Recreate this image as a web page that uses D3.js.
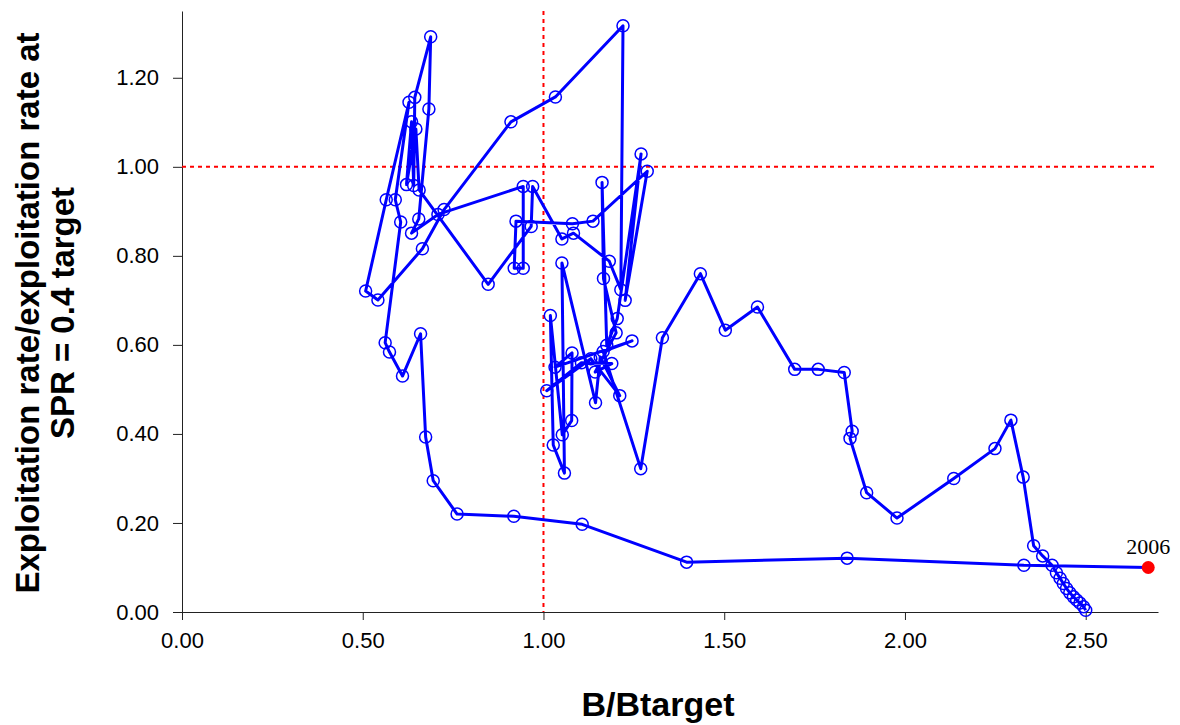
<!DOCTYPE html>
<html>
<head>
<meta charset="utf-8">
<script src="https://cdn.jsdelivr.net/npm/d3@7"></script>
<style>
  html, body { margin: 0; padding: 0; background: #fff; }
  svg { display: block; }
</style>
</head>
<body>
<svg id="chart" width="1180" height="725"></svg>
<script>
// ---- Data ----
const bRatio = [
  2.500, 2.494, 2.484, 2.475, 2.466, 2.456, 2.447, 2.438, 2.429, 2.419, 2.407, 2.381, 2.356,
  2.327, 2.293, 2.249, 2.135, 1.978, 1.894, 1.848, 1.854, 1.832, 1.760, 1.695, 1.592, 1.503, 1.434, 1.329, 1.269,
  1.165, 1.245, 1.032, 1.079, 1.078, 1.052, 1.019, 1.027, 1.058, 1.051, 1.144, 1.157, 1.211, 1.131, 1.009, 1.105,
  1.189, 1.143, 1.201, 1.166, 1.162, 1.175, 1.204, 1.270, 1.226, 1.287, 1.137, 1.080, 0.924, 0.919, 0.944, 0.944,
  0.708, 0.635, 0.655, 0.683, 0.688, 0.644, 0.641, 0.635, 0.621, 0.647, 0.656, 0.847, 0.966, 0.970, 1.051, 1.083,
  1.182, 1.214, 1.220, 1.033, 0.910, 0.725, 0.665, 0.542, 0.508, 0.565, 0.628, 0.590, 0.605,
  0.562, 0.574, 0.610, 0.660, 0.674, 0.695, 0.761, 0.918, 1.107, 1.396, 1.840, 2.329, 2.673
];
const fRatio = [
  0.004, 0.012, 0.020, 0.027, 0.034, 0.043, 0.053, 0.064, 0.076, 0.088, 0.105, 0.126, 0.149,
  0.303, 0.431, 0.367, 0.300, 0.211, 0.268, 0.390, 0.406, 0.538, 0.545, 0.545, 0.685, 0.633, 0.760, 0.616, 0.322,
  0.585, 0.609, 0.550, 0.582, 0.430, 0.398, 0.666, 0.375, 0.312, 0.784, 0.470, 0.573, 0.486, 0.569, 0.497, 0.560,
  0.558, 0.539, 0.627, 0.749, 0.965, 0.599, 0.659, 1.029, 0.700, 0.990, 0.878, 0.872, 0.878, 0.772, 0.772, 0.956,
  0.893, 0.851, 0.883, 1.130, 1.292, 1.156, 0.958, 1.101, 0.960, 1.085, 0.948, 0.736, 0.866, 0.956, 0.838, 0.851,
  0.788, 0.724, 1.317, 1.157, 1.101, 0.904, 0.816, 0.701, 0.721, 0.926, 1.145, 0.926, 0.876,
  0.605, 0.584, 0.530, 0.625, 0.393, 0.295, 0.220, 0.215, 0.197, 0.112, 0.121, 0.105, 0.100
];
const lastYearLabel = "2006";
const xTicks = [0, 0.5, 1.0, 1.5, 2.0, 2.5];
const yTicks = [0, 0.2, 0.4, 0.6, 0.8, 1.0, 1.2];
const refB = 1.0;   // B/Btarget = 1 reference
const refF = 1.0;   // F ratio = 1 reference
const xTitle = "B/Btarget";
const yTitleLines = ["Exploitation rate/exploitation rate at", "SPR = 0.4 target"];

// ---- Layout ----
const svg = d3.select("#chart");
const plotL = 182, plotR = 1158, plotT = 11, plotB = 612;
const x = d3.scaleLinear().domain([0, 2.70]).range([plotL, plotR]);
const y = d3.scaleLinear().domain([0, 1.35]).range([plotB, plotT]);

const pts = bRatio.map((b, i) => ({ b, f: fRatio[i] }));

// axes
const xAxis = d3.axisBottom(x).tickValues(xTicks).tickFormat(d3.format(".2f")).tickSize(8).tickSizeOuter(0);
const yAxis = d3.axisLeft(y).tickValues(yTicks).tickFormat(d3.format(".2f")).tickSize(9).tickSizeOuter(0);

const gx = svg.append("g").attr("transform", `translate(0,${plotB})`).call(xAxis);
const gy = svg.append("g").attr("transform", `translate(${plotL},0)`).call(yAxis);
[gx, gy].forEach(g => {
  g.select(".domain").attr("stroke", "#222").attr("stroke-width", 1);
  g.selectAll(".tick line").attr("stroke", "#222").attr("stroke-width", 1);
  g.selectAll(".tick text")
    .attr("font-family", "Liberation Sans, Arial, sans-serif")
    .attr("font-size", 22)
    .attr("fill", "#000");
});
gx.selectAll(".tick text").attr("dy", "1.15em");
gy.selectAll(".tick text").attr("dx", "-0.5em");

// reference lines
svg.append("line")
  .attr("x1", x(refB)).attr("x2", x(refB))
  .attr("y1", y(1.35)).attr("y2", y(0))
  .attr("stroke", "#ff0000").attr("stroke-width", 2).attr("stroke-dasharray", "4,4");
svg.append("line")
  .attr("x1", x(0)).attr("x2", x(2.70))
  .attr("y1", y(refF)).attr("y2", y(refF))
  .attr("stroke", "#ff0000").attr("stroke-width", 2).attr("stroke-dasharray", "4,4");

// path
const line = d3.line().x(d => x(d.b)).y(d => y(d.f));
svg.append("path").datum(pts)
  .attr("d", line)
  .attr("fill", "none")
  .attr("stroke", "#0000ff")
  .attr("stroke-width", 3)
  .attr("stroke-linejoin", "round");

// open circles (all but last)
svg.append("g").selectAll("circle")
  .data(pts.slice(0, -1))
  .join("circle")
  .attr("cx", d => x(d.b)).attr("cy", d => y(d.f)).attr("r", 6)
  .attr("fill", "none").attr("stroke", "#0000ff").attr("stroke-width", 1.5);

// final year
const last = pts[pts.length - 1];
svg.append("circle")
  .attr("cx", x(last.b)).attr("cy", y(last.f)).attr("r", 6.5)
  .attr("fill", "#ff0000");
svg.append("text")
  .attr("x", x(last.b)).attr("y", y(last.f) - 13)
  .attr("text-anchor", "middle")
  .attr("font-family", "Liberation Serif, Times New Roman, serif")
  .attr("font-size", 22)
  .text(lastYearLabel);

// titles
svg.append("text")
  .attr("x", (plotL + plotR) / 2 - 12).attr("y", 716)
  .attr("text-anchor", "middle")
  .attr("font-family", "Liberation Sans, Arial, sans-serif")
  .attr("font-weight", "bold").attr("font-size", 34)
  .text(xTitle);

const yt = svg.append("text")
  .attr("transform", `translate(39,${313}) rotate(-90)`)
  .attr("text-anchor", "middle")
  .attr("font-family", "Liberation Sans, Arial, sans-serif")
  .attr("font-weight", "bold").attr("font-size", 33);
yTitleLines.forEach((t, i) => {
  yt.append("tspan").attr("x", 0).attr("dy", i === 0 ? 0 : 35).text(t);
});
</script>
</body>
</html>
